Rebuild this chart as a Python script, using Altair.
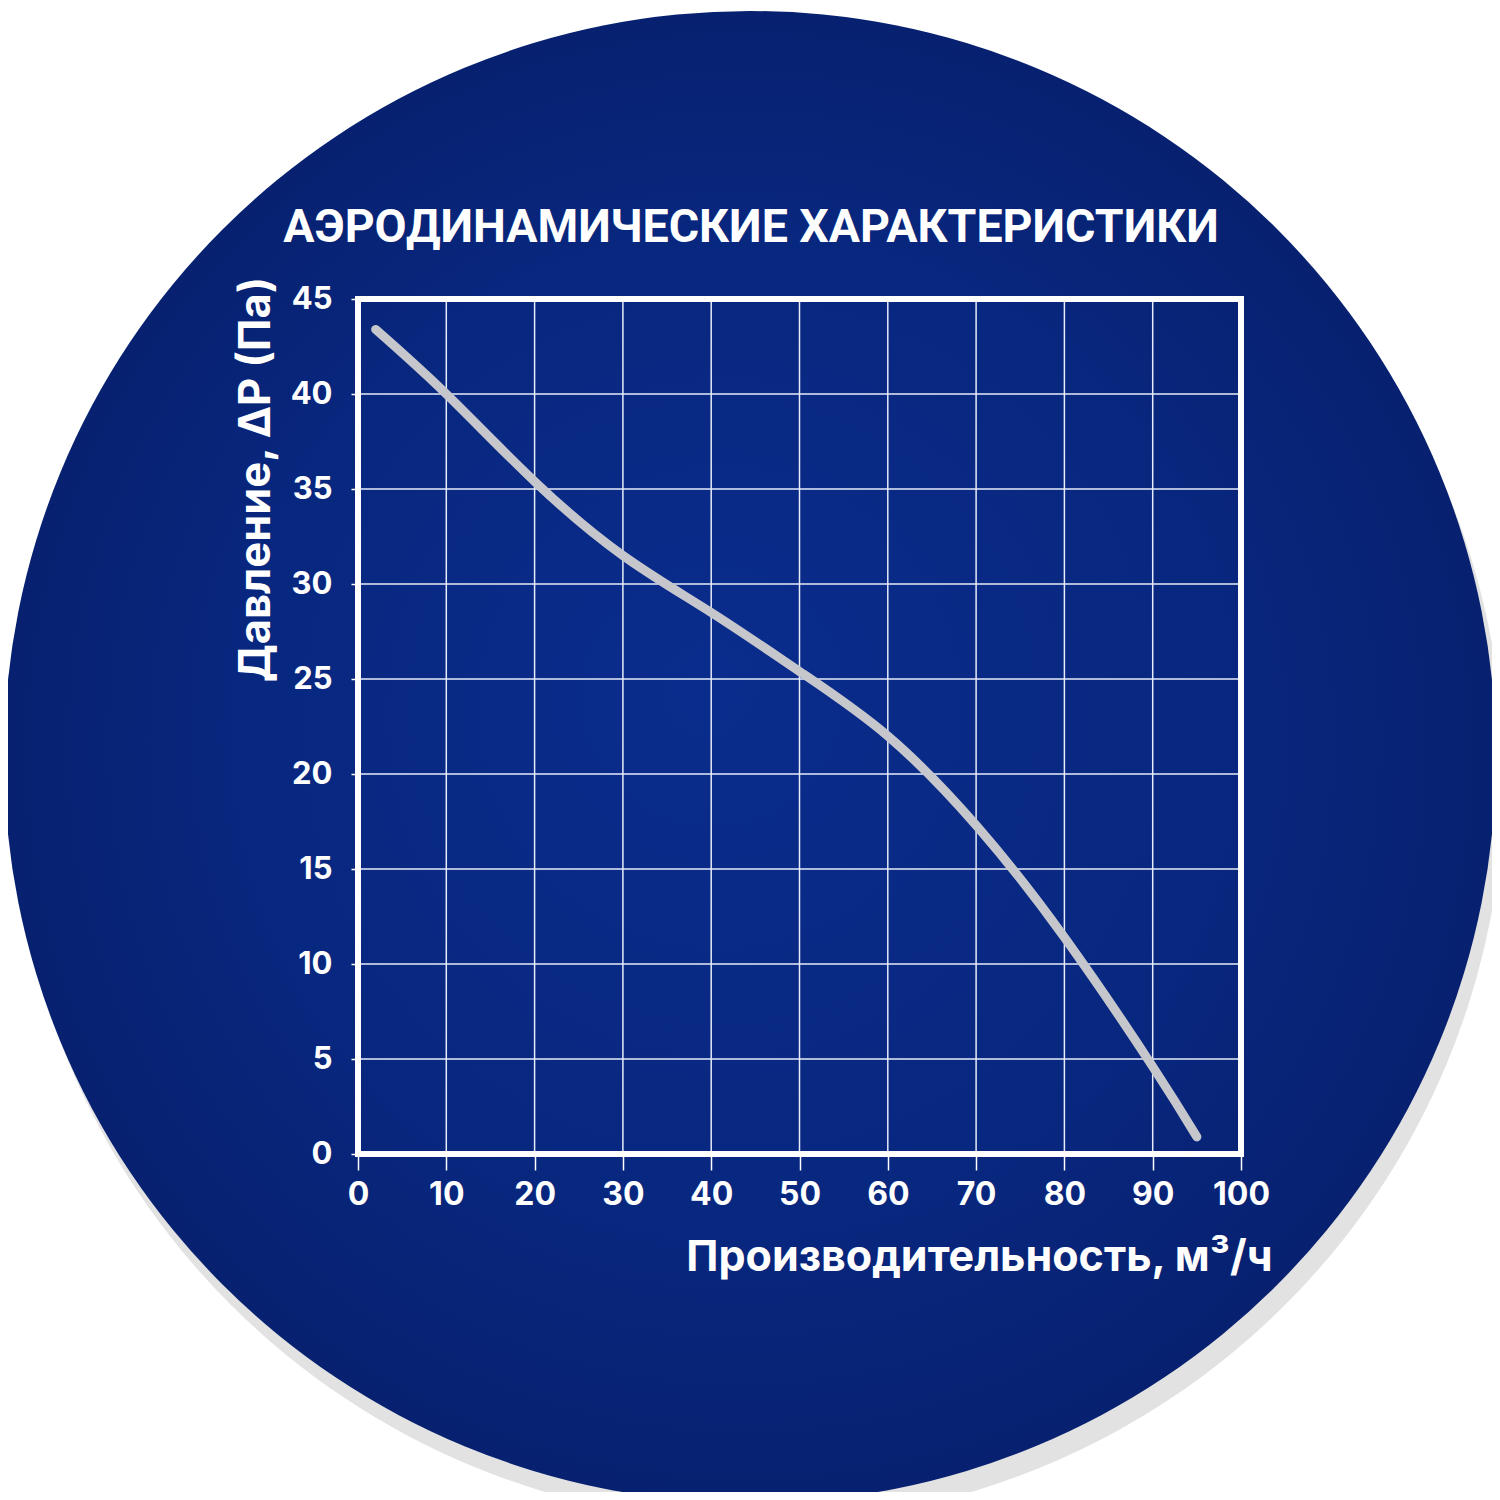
import math
import altair as alt
import pandas as pd

# ---- data ----
flow = [2, 10, 20, 30, 40, 50, 60, 70, 80, 90, 95]
pressure = [43.4, 40.0, 35.4, 31.5, 28.5, 25.4, 22.0, 17.3, 11.4, 4.6, 0.9]
x_ticks = [0, 10, 20, 30, 40, 50, 60, 70, 80, 90, 100]
y_ticks = [0, 5, 10, 15, 20, 25, 30, 35, 40, 45]

title_text = "АЭРОДИНАМИЧЕСКИЕ ХАРАКТЕРИСТИКИ"
x_title = "Производительность, м³/ч"
y_title = "Давление, ΔP (Па)"

FONT = "Inter"
TITLE_FONT = "Roboto"
W, H = 883, 855
LEFT, TOP = 350, 291
RIGHT = 1484 - LEFT - W
BOTTOM = 1484 - TOP - H

# plot origin on the page
OX, OY = LEFT + 8, TOP + 8

df = pd.DataFrame({"flow": flow, "pressure": pressure})
vgrid = pd.DataFrame({"flow": x_ticks})
hgrid = pd.DataFrame({"pressure": y_ticks})
one = pd.DataFrame({"k": [0]})

xscale = alt.Scale(domain=[0, 100], nice=False, zero=False)
yscale = alt.Scale(domain=[0, 45], nice=False, zero=False)

x_axis = alt.Axis(
    values=x_ticks, grid=False, domain=False, ticks=True,
    tickColor="#ffffff", tickWidth=1.5, tickSize=16,
    labelFont=FONT, labelFontSize=32, labelFontWeight="bold",
    labelColor="#ffffff", labelPadding=9, labelFlush=False,
    title=x_title, titleFont=FONT, titleFontSize=43,
    titleFontWeight="bold", titleColor="#ffffff",
    titleAnchor="end", titleAlign="right", titleBaseline="alphabetic",
    titleX=1272 - OX, titleY=1270 - (OY + H), zindex=1,
)
y_axis = alt.Axis(
    values=y_ticks, grid=False, domain=False, ticks=True,
    tickColor="#ffffff", tickWidth=1.5, tickSize=7,
    labelFont=FONT, labelFontSize=31, labelFontWeight="bold",
    labelColor="#ffffff", labelPadding=19, labelFlush=False,
    title=y_title, titleFont=FONT, titleFontSize=43.5,
    titleFontWeight="bold", titleColor="#ffffff",
    titleAngle=270, titleAlign="center", titleBaseline="middle",
    titleX=256 - OX, titleY=479 - OY, zindex=1,
)

R = 746
shadow = alt.Chart(one).mark_point(
    filled=True, shape="circle", color="#e2e2e2", opacity=1, strokeWidth=0,
    size=(2 * R) ** 2,
).encode(x=alt.value(758 - OX), y=alt.value(777 - OY))

disc = alt.Chart(one).mark_point(
    filled=True, shape="circle", opacity=1, strokeWidth=0,
    size=(2 * R) ** 2,
    color=alt.RadialGradient(
        gradient="radial",
        stops=[
            alt.GradientStop(offset=0, color="#0a2c8c"),
            alt.GradientStop(offset=0.65, color="#08277f"),
            alt.GradientStop(offset=1, color="#072170"),
        ],
        x1=0.47, y1=0.45, r1=0, x2=0.5, y2=0.5, r2=0.5,
    ),
).encode(x=alt.value(750 - OX), y=alt.value(757 - OY))

vlines = alt.Chart(vgrid).mark_rule(color="#e6ecf8", strokeWidth=1.5).encode(
    x=alt.X("flow:Q", scale=xscale, axis=x_axis)
)
hlines = alt.Chart(hgrid).mark_rule(color="#e6ecf8", strokeWidth=1.5).encode(
    y=alt.Y("pressure:Q", scale=yscale, axis=y_axis)
)

curve = alt.Chart(df).mark_line(
    color="#c6c7cc", strokeWidth=9, strokeCap="round", strokeJoin="round",
    interpolate="natural",
).encode(
    x=alt.X("flow:Q", scale=xscale, axis=x_axis),
    y=alt.Y("pressure:Q", scale=yscale, axis=y_axis),
)

frame = alt.Chart(one).mark_rect(
    fillOpacity=0, stroke="#ffffff", strokeWidth=6
).encode(
    x=alt.value(0), x2=alt.value(W), y=alt.value(0), y2=alt.value(H)
)

title = alt.Chart(one).mark_text(
    text=title_text, font=TITLE_FONT, fontSize=46.5, fontWeight="bold",
    color="#ffffff", align="center", baseline="alphabetic",
).encode(x=alt.value(751 - OX), y=alt.value(242 - OY))

chart = alt.layer(shadow, disc, vlines, hlines, frame, curve, title).properties(
    width=W, height=H,
    autosize=alt.AutoSizeParams(type="none"),
    padding={"left": LEFT, "top": TOP, "right": RIGHT, "bottom": BOTTOM},
    background="#ffffff",
).configure_view(stroke=None)

chart.save("out.html", embed_options={"renderer": "svg", "actions": False})
